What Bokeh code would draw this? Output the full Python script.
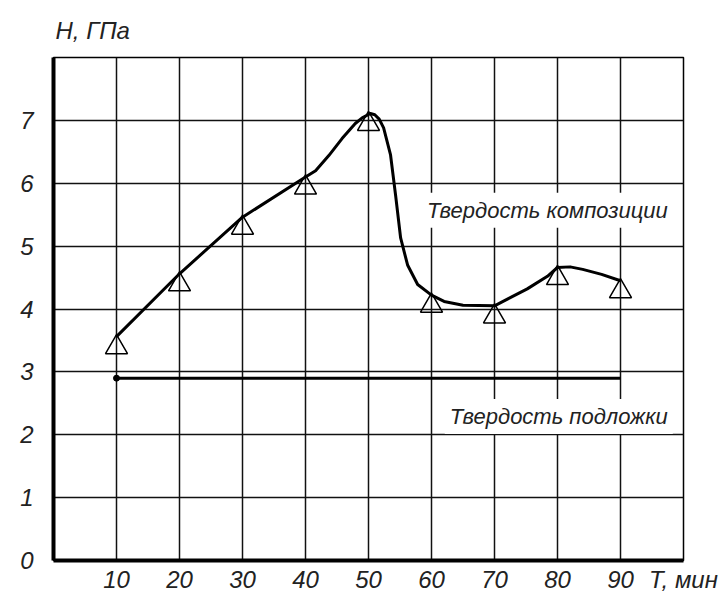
from bokeh.plotting import figure
from bokeh.models import Label, FixedTicker, Range1d, ColumnDataSource
from bokeh.transform import dodge
from bokeh.embed import file_html
from bokeh.resources import INLINE

# --- data ---
time_min = [10, 20, 30, 40, 50, 60, 70, 80, 90]
hardness = [3.56, 4.56, 5.46, 6.10, 7.11, 4.22, 4.05, 4.66, 4.45]

# points along the drawn (smooth) curve
curve_time = [10, 20, 30, 40, 41.6, 43.7, 45.8, 47.9, 49, 50.3, 51.0, 51.7, 52.4,
              53.5, 54.3, 55.1, 56.2, 57.8, 60, 62, 65, 70, 72.5, 75.2, 78.4, 80,
              82, 84, 87, 90]
curve_hardness = [3.56, 4.56, 5.46, 6.10, 6.20, 6.44, 6.71, 6.95, 7.04, 7.11, 7.09,
                  7.02, 6.88, 6.45, 5.81, 5.13, 4.70, 4.39, 4.22, 4.12, 4.06, 4.05,
                  4.18, 4.32, 4.52, 4.66, 4.67, 4.63, 4.55, 4.45]

substrate_time = [10, 90]
substrate_hardness = [2.9, 2.9]

x_ticks = [10, 20, 30, 40, 50, 60, 70, 80, 90, 100]
x_tick_labels = ["10", "20", "30", "40", "50", "60", "70", "80", "90", "T, мин"]
y_ticks = [0, 1, 2, 3, 4, 5, 6, 7]
y_tick_labels = ["0", "1", "2", "3", "4", "5", "6", "7"]
grid_y = [1, 2, 3, 4, 5, 6, 7]

y_axis_title = "H, ГПа"
composite_label = "Твердость композиции"
substrate_label = "Твердость подложки"

FONT = "Liberation Sans"
INK = "#222222"

p = figure(width=720, height=595, x_range=Range1d(0, 100), y_range=Range1d(0, 8),
           output_backend="svg", toolbar_location=None,
           min_border_left=53, min_border_right=37, min_border_top=57, min_border_bottom=34)

p.outline_line_color = "black"
p.outline_line_width = 1.5
p.background_fill_color = "white"
p.border_fill_color = "white"

p.title.text = y_axis_title
p.title.align = "left"
p.title.offset = 2
p.title.standoff = 27
p.title.text_font = FONT
p.title.text_font_style = "italic"
p.title.text_font_size = "24px"
p.title.text_color = INK

p.xgrid.ticker = FixedTicker(ticks=x_ticks)
p.ygrid.ticker = FixedTicker(ticks=grid_y)
for g in (p.xgrid, p.ygrid):
    g.grid_line_color = "#111111"
    g.grid_line_width = 1.5
    g.grid_line_alpha = 1.0

p.xaxis.ticker = FixedTicker(ticks=x_ticks)
p.yaxis.ticker = FixedTicker(ticks=y_ticks)
p.xaxis.major_label_overrides = {t: s for t, s in zip(x_ticks, x_tick_labels)}
p.yaxis.major_label_overrides = {t: s for t, s in zip(y_ticks, y_tick_labels)}
for ax in (p.xaxis, p.yaxis):
    ax.axis_line_width = 4
    ax.axis_line_color = "black"
    ax.major_tick_line_color = None
    ax.minor_tick_line_color = None
    ax.major_tick_out = 0
    ax.major_tick_in = 0
    ax.minor_tick_out = 0
    ax.minor_tick_in = 0
    ax.major_label_text_font = FONT
    ax.major_label_text_font_style = "italic"
    ax.major_label_text_font_size = "24px"
    ax.major_label_text_color = INK
p.xaxis.major_label_standoff = 5
p.yaxis.major_label_standoff = 20

src = ColumnDataSource(dict(t=time_min, h=hardness))
p.scatter(x="t", y=dodge("h", -0.17, range=p.y_range), marker="triangle", size=22,
          fill_color=None, line_color="black", line_width=1.5, source=src)
p.line(curve_time, curve_hardness, line_width=3, line_color="black", line_join="round")

p.line(substrate_time, substrate_hardness, line_width=3, line_color="black")
p.scatter(substrate_time[:1], substrate_hardness[:1], size=6, color="black")

common = dict(text_font=FONT, text_font_style="italic", text_font_size="22px", text_color=INK)
p.add_layout(Label(x=98.3, y=5.57, text=composite_label, text_align="right",
                   text_baseline="alphabetic", background_fill_color="white", padding=5, **common))
p.add_layout(Label(x=98.3, y=2.29, text=substrate_label, text_align="right",
                   text_baseline="alphabetic", background_fill_color="white", padding=5, **common))

open("out.html", "w").write(file_html(p, INLINE))
